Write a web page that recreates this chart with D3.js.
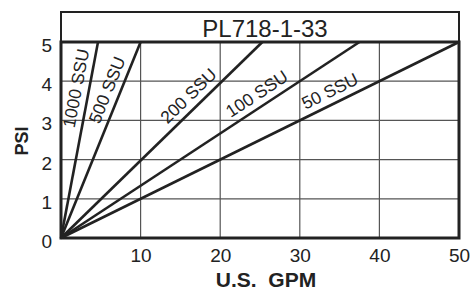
<!DOCTYPE html>
<html>
<head>
<meta charset="utf-8">
<script src="https://cdn.jsdelivr.net/npm/d3@7"></script>
<style>
  body { margin: 0; background: #fff; }
  svg text { font-family: "Liberation Sans", Arial, sans-serif; fill: #222; }
</style>
</head>
<body>
<svg id="chart" width="471" height="290"></svg>
<script>
// viscosity curves, gpm where each line reaches 5 psi (lines start at 0,0)
const series = ['1000 SSU', '500 SSU', '200 SSU', '100 SSU', '50 SSU']
const gpmAtMax = [4.65, 10, 25.3, 37.5, 50]
const labelPsi = [3.76, 3.65, 3.39, 3.4, 3.45]
const xTicks = [10, 20, 30, 40, 50]
const yTicks = [0, 1, 2, 3, 4, 5]
const title = 'PL718-1-33'

const mLeft = 61, mRight = 459, mTop = 42, mBottom = 238
const svg = d3.select('#chart')

const x = d3.scaleLinear().domain([0, 50]).range([mLeft, mRight])
const y = d3.scaleLinear().domain([0, 5]).range([mBottom, mTop])

// grid
svg.append('g')
    .selectAll('line')
    .data(xTicks.slice(0, -1))
    .join('line')
        .attr('x1', d => x(d)).attr('x2', d => x(d))
        .attr('y1', y(0)).attr('y2', y(5))
        .attr('stroke', '#555').attr('stroke-width', 1.2)
svg.append('g')
    .selectAll('line')
    .data(yTicks.slice(1, -1))
    .join('line')
        .attr('x1', x(0)).attr('x2', x(50))
        .attr('y1', d => y(d)).attr('y2', d => y(d))
        .attr('stroke', '#555').attr('stroke-width', 1.2)

// title box
svg.append('rect')
    .attr('x', mLeft).attr('y', 12)
    .attr('width', mRight - mLeft).attr('height', mTop - 12)
    .attr('fill', 'none').attr('stroke', '#222').attr('stroke-width', 2)
svg.append('text')
    .attr('x', 265).attr('y', 37)
    .attr('text-anchor', 'middle')
    .style('font-size', '24px')
    .text(title)

// frame
svg.append('rect')
    .attr('x', mLeft).attr('y', mTop)
    .attr('width', mRight - mLeft).attr('height', mBottom - mTop)
    .attr('fill', 'none').attr('stroke', '#222').attr('stroke-width', 3)

// lines
const lines = series.map((s, i) => ({name: s, pts: [[0, 0], [gpmAtMax[i], 5]], lp: labelPsi[i], g: gpmAtMax[i]}))
const line = d3.line().x(d => x(d[0])).y(d => y(d[1]))

svg.append('g')
    .selectAll('path')
    .data(lines)
    .join('path')
        .attr('d', d => line(d.pts))
        .attr('fill', 'none')
        .attr('stroke', '#222')
        .attr('stroke-width', 2.6)

// labels along the lines
svg.append('g')
    .selectAll('text')
    .data(lines)
    .join('text')
        .attr('transform', d => {
            const px = x(d.g * d.lp / 5), py = y(d.lp)
            const ang = Math.atan2(y(5) - y(0), x(d.g) - x(0)) * 180 / Math.PI
            return `translate(${px},${py}) rotate(${ang})`
        })
        .attr('text-anchor', 'middle')
        .attr('dy', -7)
        .style('font-size', '17.5px')
        .text(d => d.name)

// axes
const xAxis = d3.axisBottom(x).tickValues(xTicks).tickSize(0).tickPadding(11)
const gx = svg.append('g').attr('transform', `translate(0,${mBottom})`).call(xAxis)
gx.select('.domain').remove()
gx.selectAll('text').style('font-size', '19px').style('fill', '#222')

const yAxis = d3.axisLeft(y).tickValues(yTicks).tickFormat(d3.format('d')).tickSize(0).tickPadding(9)
const gy = svg.append('g').attr('transform', `translate(${mLeft},0)`).call(yAxis)
gy.select('.domain').remove()
gy.selectAll('text').style('font-size', '19px').style('fill', '#222').attr('dy', '0.5em')

svg.append('text')
    .attr('x', 266).attr('y', 287)
    .attr('text-anchor', 'middle')
    .style('font-size', '21px').style('font-weight', 'bold')
    .attr('xml:space', 'preserve')
    .text('U.S.  GPM')

svg.append('text')
    .attr('transform', 'translate(28,141) rotate(-90)')
    .attr('text-anchor', 'middle')
    .style('font-size', '18px').style('font-weight', 'bold')
    .text('PSI')
</script>
</body>
</html>
